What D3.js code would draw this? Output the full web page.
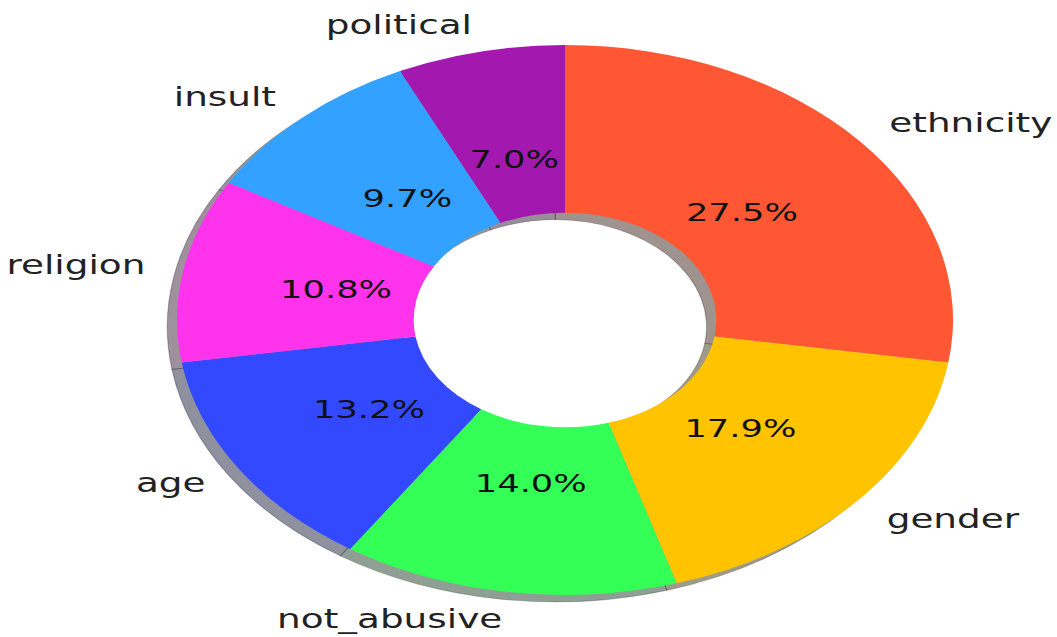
<!DOCTYPE html>
<html>
<head>
<meta charset="utf-8">
<script src="https://cdn.jsdelivr.net/npm/d3@7"></script>
<style>
  html, body { margin: 0; padding: 0; background: #ffffff; }
  svg { display: block; }
</style>
</head>
<body>
<svg id="chart" width="1057" height="637"></svg>
<script>
// Share of each category (percent), clockwise from 12 o'clock
const categories = ["ethnicity", "gender", "not_abusive", "age", "religion", "insult", "political"];
const shares = [27.5, 17.9, 14.0, 13.2, 10.8, 9.7, 7.0];
const sliceColors = ["#FF5733", "#FFC300", "#33FF57", "#3349FF", "#FF33EC", "#33A1FF", "#A319B0"];

const W = 1057, H = 637;
const cx = 565, cy = 320;
const R = 275;              // radius before horizontal stretch
const stretchX = 388 / 275; // donut is drawn wider than tall
const innerFrac = 0.39;
const pctDist = 0.6, labelDist = 1.1;
const shadowOff = 0.025 * R;

const data = categories.map((c, i) => ({ name: c, value: shares[i], color: sliceColors[i] }));

const pie = d3.pie().sort(null).value(d => d.value).startAngle(0).endAngle(2 * Math.PI);
const arcs = pie(data);
const arc = d3.arc().innerRadius(R * innerFrac).outerRadius(R);

const svg = d3.select("#chart");
const g = svg.append("g").attr("transform", `translate(${cx},${cy}) scale(${stretchX},1)`);

// drop shadow: darkened, greyed copy of each wedge, offset down-left
function shadowColor(c) {
  const rgb = d3.rgb(c);
  const dark = d3.rgb(rgb.r * 0.3, rgb.g * 0.3, rgb.b * 0.3);
  return d3.interpolateRgb(dark, "#333333")(0.5);
}
const sh = g.append("g").attr("transform", `translate(${-shadowOff},${shadowOff})`);
sh.selectAll("path").data(arcs).join("path")
  .attr("d", arc)
  .attr("fill", d => shadowColor(d.data.color))
  .attr("fill-opacity", 0.5)
  .attr("stroke", d => shadowColor(d.data.color))
  .attr("stroke-opacity", 0.35)
  .attr("stroke-width", 0.8);

// wedges
g.append("g").selectAll("path").data(arcs).join("path")
  .attr("d", arc)
  .attr("fill", d => d.data.color);

const mid = d => (d.startAngle + d.endAngle) / 2;

// percentage labels inside the ring
g.append("g").selectAll("text").data(arcs).join("text")
  .attr("x", d => Math.sin(mid(d)) * R * pctDist)
  .attr("y", d => -Math.cos(mid(d)) * R * pctDist)
  .attr("text-anchor", "middle")
  .attr("dominant-baseline", "central")
  .attr("font-family", "DejaVu Sans, sans-serif")
  .attr("font-size", 25)
  .attr("fill", "#111")
  .text(d => d.data.value.toFixed(1) + "%");

// category labels outside the ring
g.append("g").selectAll("text").data(arcs).join("text")
  .attr("x", d => Math.sin(mid(d)) * R * labelDist)
  .attr("y", d => -Math.cos(mid(d)) * R * labelDist)
  .attr("text-anchor", d => Math.sin(mid(d)) >= 0 ? "start" : "end")
  .attr("dominant-baseline", "central")
  .attr("font-family", "DejaVu Sans, sans-serif")
  .attr("font-size", 26.5)
  .attr("fill", "#222")
  .text(d => d.data.name);
</script>
</body>
</html>
